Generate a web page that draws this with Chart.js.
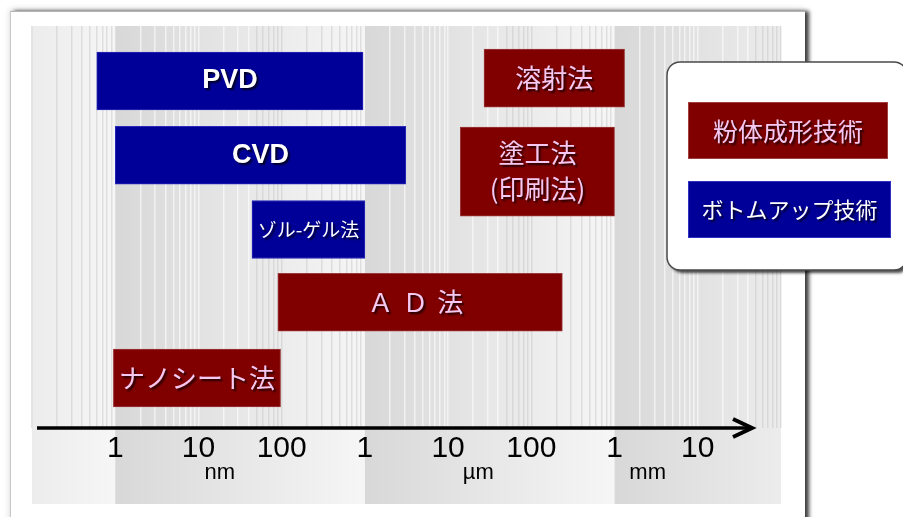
<!DOCTYPE html>
<html>
<head>
<meta charset="utf-8">
<script src="https://cdn.jsdelivr.net/npm/chart.js@4.4.1/dist/chart.umd.min.js"></script>
<style>
  body { margin: 0; background: #fff; }
  #wrap { position: relative; width: 903px; height: 517px; overflow: hidden; }
  #panel {
    position: absolute; left: 10px; top: 11px; width: 794px; height: 520px;
    background: #fff; border-top: 1px solid #b4b4b4; border-left: 1px solid #c8c8c8;
    box-shadow: 4px 0 4px rgba(0, 0, 0, 0.75), -1px -2px 6px rgba(0, 0, 0, 0.12);
  }
  #chart { position: absolute; left: 0; top: 0; }
</style>
</head>
<body>
<div id="wrap">
  <div id="panel"></div>
  <canvas id="chart" width="903" height="517"></canvas>
</div>
<script>
// thickness in nm, rows counted from the top
const blueNames = ['PVD', 'CVD', 'ゾル-ゲル法']
const blueRows = [0, 1, 2]
const blueFrom = [0.6, 1, 44]
const blueTo = [950, 3100, 1000]

const redNames = ['溶射法', 'ＡＤ法', 'ナノシート法']
const redRows = [-0.04, 2.98, 4]
const redFrom = [27000, 90, 0.95]
const redTo = [1320000, 236000, 97]

const coatNames = ['塗工法\n(印刷法)']
const coatRows = [1.22]
const coatFrom = [14000]
const coatTo = [1000000]

const tickValues = [1, 10, 100, 1e3, 1e4, 1e5, 1e6, 1e7]
const tickLabels = ['1', '10', '100', '1', '10', '100', '1', '10']
const unitNames = ['nm', 'µm', 'mm']
const unitAt = [18, 23000, 2.5e6]

const legendNames = ['粉体成形技術', 'ボトムアップ技術']

const BLUE = '#000099'
const RED = '#800000'
const JP = '"Noto Sans CJK JP", sans-serif'
const LAT = '"Liberation Sans", Arial, sans-serif'

function toPoints(rows, from, to) {
  return rows.map((r, i) => ({ y: r, x: [from[i], to[i]] }))
}

// shading of the three-decade bands behind the bars
const bands = {
  id: 'bands',
  beforeDraw(chart) {
    const { ctx, chartArea: { left, right, top, bottom } } = chart
    const xs = chart.scales.x
    ctx.save()
    ctx.beginPath()
    ctx.rect(left, top, right - left, bottom - top + 76)
    ctx.clip()
    for (const s of [-3, 0, 3, 6]) {
      const x0 = xs.getPixelForValue(Math.pow(10, s))
      const x1 = xs.getPixelForValue(Math.pow(10, s + 3))
      const g = ctx.createLinearGradient(x0, 0, x1, 0)
      g.addColorStop(0, '#d8d8d8')
      g.addColorStop(1, '#f6f6f6')
      ctx.fillStyle = g
      ctx.fillRect(x0, top, x1 - x0, bottom - top + 76)
    }
    ctx.restore()
  },
}

function drawText(ctx, lines, x, y, font, color, lh, spacing) {
  ctx.save()
  ctx.font = font
  ctx.fillStyle = color
  ctx.textAlign = 'center'
  ctx.textBaseline = 'middle'
  if (spacing) ctx.letterSpacing = spacing
  ctx.shadowColor = 'rgba(0,0,0,0.75)'
  ctx.shadowOffsetX = 2
  ctx.shadowOffsetY = 2
  ctx.shadowBlur = 2
  const y0 = y - ((lines.length - 1) * lh) / 2
  lines.forEach((t, i) => ctx.fillText(t, x, y0 + i * lh))
  ctx.restore()
}

const barText = {
  id: 'barText',
  afterDatasetsDraw(chart) {
    const { ctx } = chart
    chart.data.datasets.forEach((ds, di) => {
      const meta = chart.getDatasetMeta(di)
      meta.data.forEach((bar, i) => {
        const name = ds.names[i]
        const cx = (bar.x + bar.base) / 2
        const cy = bar.y
        if (name === 'PVD' || name === 'CVD') {
          drawText(ctx, [name], cx, cy, 'bold 27px ' + LAT, '#fff', 0)
        } else if (name === 'ゾル-ゲル法') {
          drawText(ctx, [name], cx, cy, '19px ' + JP, '#fff', 0)
        } else if (name === 'ＡＤ法') {
          drawText(ctx, ['Ａ Ｄ 法'], cx - 4, cy, '26px ' + JP, '#f4c8f0', 0, '1.5px')
        } else {
          drawText(ctx, name.split('\n'), cx, cy, '26px ' + JP, '#f4c8f0', 36)
        }
      })
    })
  },
}

const axisArrow = {
  id: 'axisArrow',
  afterDraw(chart) {
    const { ctx, chartArea: { left, right, bottom } } = chart
    const xs = chart.scales.x
    const tip = right - 29
    ctx.save()
    ctx.strokeStyle = '#000'
    ctx.lineWidth = 3.5
    ctx.beginPath()
    ctx.moveTo(left + 5, bottom)
    ctx.lineTo(tip - 2, bottom)
    ctx.stroke()
    ctx.lineWidth = 4
    ctx.lineJoin = 'miter'
    ctx.beginPath()
    ctx.moveTo(tip - 19, bottom - 9)
    ctx.lineTo(tip, bottom)
    ctx.lineTo(tip - 19, bottom + 9)
    ctx.stroke()

    // unit names under the tick labels
    ctx.font = '22px ' + LAT
    ctx.fillStyle = '#000'
    ctx.textAlign = 'center'
    ctx.textBaseline = 'alphabetic'
    unitNames.forEach((u, i) => {
      ctx.fillText(u, xs.getPixelForValue(unitAt[i]), 479)
    })

    // legend card
    const lx = 667, ly = 62, lw = 240, lh = 208
    ctx.save()
    ctx.shadowColor = 'rgba(0,0,0,0.7)'
    ctx.shadowOffsetX = 3
    ctx.shadowOffsetY = 3
    ctx.shadowBlur = 3
    ctx.fillStyle = '#fff'
    ctx.beginPath()
    ctx.roundRect(lx, ly, lw, lh, 13)
    ctx.fill()
    ctx.restore()
    ctx.strokeStyle = '#4a4a4a'
    ctx.lineWidth = 1.5
    ctx.beginPath()
    ctx.roundRect(lx, ly, lw, lh, 13)
    ctx.stroke()

    const items = [
      { color: RED, border: '#a04040', y: 102, w: 200, text: legendNames[0], font: '25px ' + JP, tc: '#f4c8f0' },
      { color: BLUE, border: '#3030c0', y: 181, w: 203, text: legendNames[1], font: '22px ' + JP, tc: '#fff' },
    ]
    items.forEach((it) => {
      ctx.fillStyle = it.color
      ctx.fillRect(688, it.y, it.w, 57)
      ctx.strokeStyle = it.border
      ctx.lineWidth = 1
      ctx.strokeRect(688.5, it.y + 0.5, it.w - 1, 56)
      drawText(ctx, [it.text], 688 + it.w / 2, it.y + 29, it.font, it.tc, 0)
    })
    ctx.restore()
  },
}

function gridColor(c) {
  const v = c.tick && c.tick.value
  if (!v) return 'transparent'
  const lg = Math.log10(v)
  const pos = (((lg % 3) + 3) % 3) / 3
  if (pos < 0.001 || pos > 0.999) return 'transparent'
  return pos < 0.55 ? 'rgba(255,255,255,0.6)' : 'rgba(195,195,195,0.45)'
}

const ctx = document.getElementById('chart').getContext('2d')
// eslint-disable-next-line no-unused-vars
const myChart = new Chart(ctx, {
  type: 'bar',
  data: {
    datasets: [
      {
        label: legendNames[1],
        names: blueNames,
        data: toPoints(blueRows, blueFrom, blueTo),
        backgroundColor: BLUE,
        borderColor: '#2828b8',
        borderWidth: 1,
        borderSkipped: false,
        barThickness: 58,
        stack: 'all',
      },
      {
        label: legendNames[0],
        names: redNames,
        data: toPoints(redRows, redFrom, redTo),
        backgroundColor: RED,
        borderColor: '#9c3a3a',
        borderWidth: 1,
        borderSkipped: false,
        barThickness: 58,
        stack: 'all',
      },
      {
        label: legendNames[0],
        names: coatNames,
        data: toPoints(coatRows, coatFrom, coatTo),
        backgroundColor: RED,
        borderColor: '#9c3a3a',
        borderWidth: 1,
        borderSkipped: false,
        barThickness: 89,
        stack: 'all',
      },
    ],
  },
  options: {
    responsive: false,
    animation: false,
    indexAxis: 'y',
    layout: { padding: { left: 32, right: 122, top: 26, bottom: 0 } },
    scales: {
      x: {
        type: 'logarithmic',
        min: 0.1,
        max: 1e8,
        stacked: false,
        border: { display: false },
        grid: { drawTicks: false, color: gridColor, lineWidth: 1.5 },
        afterBuildTicks: (s) => {
          // 1..9 in every decade
          const t = []
          for (let e = -1; e < 8; e++) {
            for (let k = 1; k <= 9; k++) t.push({ value: k * Math.pow(10, e) })
          }
          t.push({ value: 1e8 })
          s.ticks = t
        },
        afterFit: (s) => {
          s.height = 89
        },
        ticks: {
          autoSkip: false,
          maxRotation: 0,
          padding: 3,
          color: '#000',
          font: { family: LAT, size: 30 },
          callback: (value) => {
            const k = tickValues.findIndex((t) => Math.abs(t - value) / t < 1e-6)
            return k >= 0 ? tickLabels[k] : ''
          },
        },
      },
      y: {
        type: 'linear',
        reverse: true,
        offset: false,
        min: -0.741,
        max: 4.673,
        display: false,
      },
    },
    plugins: {
      legend: false,
      tooltip: false,
    },
  },
  plugins: [bands, barText, axisArrow],
})
</script>
</body>
</html>
